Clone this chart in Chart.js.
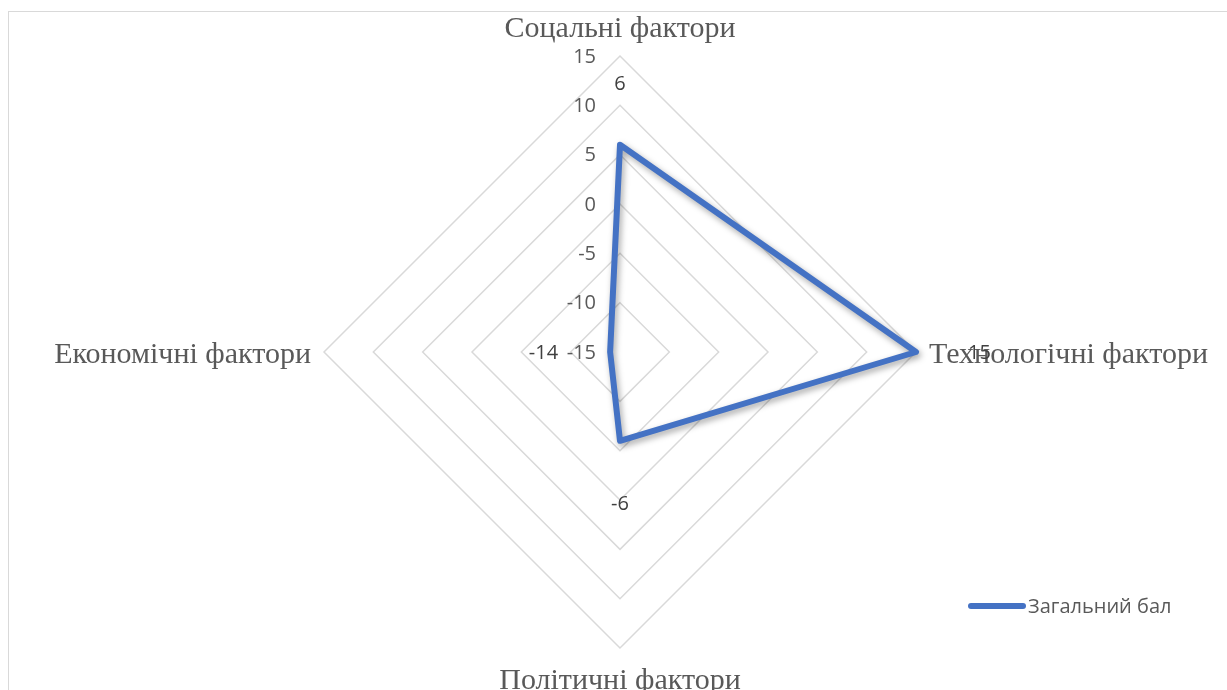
<!DOCTYPE html>
<html>
<head>
<meta charset="utf-8">
<script src="https://cdn.jsdelivr.net/npm/chart.js@4.4.1/dist/chart.umd.min.js"></script>
<style>
    html, body { margin: 0; padding: 0; background: #fff; }
    #wrap { position: relative; width: 1227px; height: 690px; }
    #frame { position: absolute; left: 8px; top: 11px; right: -4px; bottom: -4px; border: 1.5px solid #d9d9d9; }
    canvas { position: absolute; left: 0; top: 0; }
</style>
</head>
<body>
<div id="wrap">
    <div id="frame"></div>
    <canvas id="pestChart" width="1227" height="690"></canvas>
</div>
<script>
const categories = ['Соцальні фактори', 'Технологічні фактори', 'Політичні фактори', 'Економічні фактори'];
const scores = [6, 15, -6, -14];
const seriesName = 'Загальний бал';
const tickValues = [-15, -10, -5, 0, 5, 10, 15];

const lineBlue = '#4472c4';
const textGrey = '#595959';
const sansFont = '"Open Sans", "Noto Sans", sans-serif';
const serifFont = '"Liberation Serif", "DejaVu Serif", serif';

// shadow under the series line, like the Excel outer shadow
const lineShadow = {
    id: 'lineShadow',
    beforeDatasetDraw(chart) {
        const c = chart.ctx;
        c.save();
        c.shadowColor = 'rgba(0,0,0,0.35)';
        c.shadowBlur = 6;
        c.shadowOffsetX = 2;
        c.shadowOffsetY = 3;
    },
    afterDatasetDraw(chart) {
        chart.ctx.restore();
    }
};

// tick labels to the left of the vertical axis + category names
const axisText = {
    id: 'axisText',
    beforeDatasetsDraw(chart) {
        const r = chart.scales.r;
        const c = chart.ctx;
        c.save();
        c.font = '20px ' + sansFont;
        c.fillStyle = textGrey;
        c.textAlign = 'right';
        c.textBaseline = 'middle';
        tickValues.forEach(v => {
            const d = r.getDistanceFromCenterForValue(v);
            c.fillText(String(v), r.xCenter - 24, r.yCenter - d + 1);
        });

        c.font = '30px ' + serifFont;
        categories.forEach((name, i) => {
            const horiz = i % 2 === 1;
            const p = r.getPointPosition(i, r.drawingArea + (horiz ? 13 : 30));
            c.textAlign = horiz ? (p.x > r.xCenter ? 'left' : 'right') : 'center';
            c.textBaseline = 'middle';
            c.fillText(name, p.x, p.y + 3);
        });
        c.restore();
    },
    afterDatasetsDraw(chart) {
        const r = chart.scales.r;
        const c = chart.ctx;
        c.save();
        c.font = '20px ' + sansFont;
        c.fillStyle = '#404040';
        c.textAlign = 'center';
        c.textBaseline = 'middle';
        scores.forEach((v, i) => {
            const txt = String(v);
            const half = i % 2 === 1 ? c.measureText(txt).width / 2 : 10;
            const p = r.getPointPosition(i, r.getDistanceFromCenterForValue(v) + 52 + half);
            c.fillText(txt, p.x, p.y + 1);
        });

        // legend
        const ds = chart.data.datasets[0];
        c.strokeStyle = ds.borderColor;
        c.lineWidth = 6;
        c.lineCap = 'round';
        c.beginPath();
        c.moveTo(971, 606);
        c.lineTo(1023, 606);
        c.stroke();
        c.fillStyle = textGrey;
        c.textAlign = 'left';
        c.fillText(ds.label, 1028, 607);
        c.restore();
    }
};

const ctx = document.getElementById('pestChart').getContext('2d');
const pestChart = new Chart(ctx, {
    type: 'radar',
    data: {
        labels: categories,
        datasets: [{
            label: seriesName,
            data: scores,
            borderColor: lineBlue,
            backgroundColor: 'rgba(0,0,0,0)',
            borderWidth: 6,
            borderJoinStyle: 'round',
            fill: false,
            pointRadius: 0,
            pointHoverRadius: 0
        }]
    },
    options: {
        responsive: false,
        animation: false,
        layout: { padding: 0 },
        plugins: {
            legend: { display: false },
            tooltip: { enabled: false }
        },
        scales: {
            r: {
                min: -15,
                max: 15,
                ticks: { stepSize: 5, display: false },
                grid: { color: '#d9d9d9', lineWidth: 1.5, circular: false },
                angleLines: { display: false },
                pointLabels: { display: false },
                afterFit(scale) {
                    // put the plot where the reference has it
                    scale.xCenter = 620;
                    scale.yCenter = 352;
                    scale.drawingArea = 296;
                }
            }
        }
    },
    plugins: [lineShadow, axisText]
});
</script>
</body>
</html>
